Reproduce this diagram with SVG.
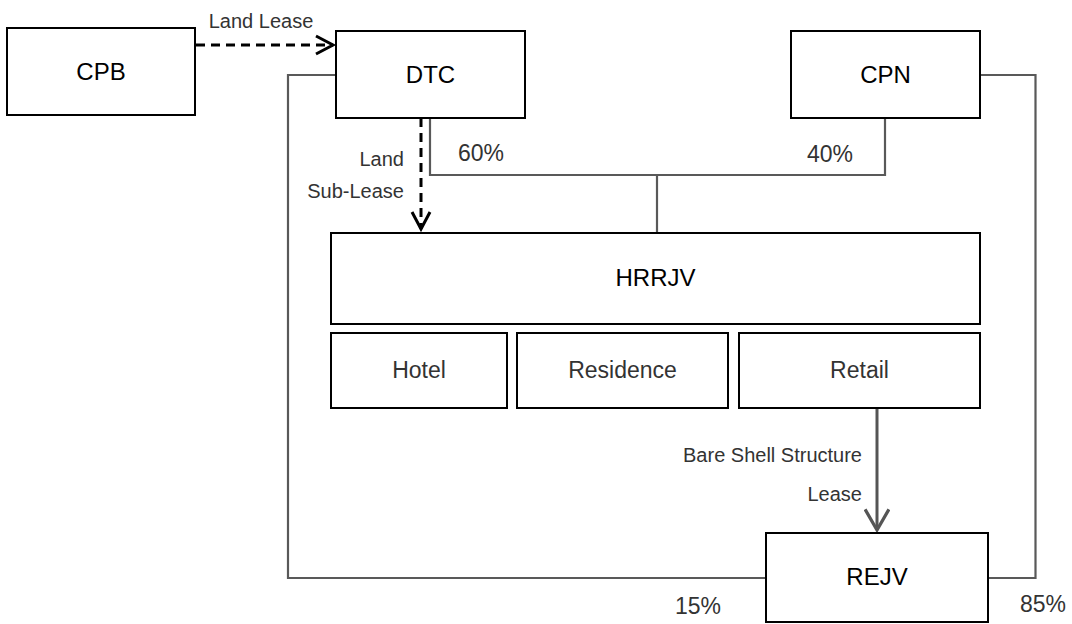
<svg xmlns="http://www.w3.org/2000/svg" width="1072" height="624" viewBox="0 0 1072 624">
<style>
.box{fill:#fff;stroke:#000;stroke-width:2}
.nl{font-family:"Liberation Sans",Arial,sans-serif;font-size:24px;fill:#000;text-anchor:middle}
.sl{font-family:"Liberation Sans",Arial,sans-serif;font-size:23px;fill:#333;text-anchor:middle}
.lbl{font-family:"Liberation Sans",Arial,sans-serif;font-size:20px;fill:#333}
.pct{font-family:"Liberation Sans",Arial,sans-serif;font-size:23px;fill:#333}
.conn{fill:none;stroke:#595959;stroke-width:2.2}
.dash{fill:none;stroke:#000;stroke-width:3;stroke-dasharray:9 6}
</style>
<defs>
<marker id="chevB" markerUnits="userSpaceOnUse" markerWidth="24" markerHeight="24" refX="18" refY="10" orient="auto" viewBox="0 0 24 20">
<path d="M1,1 L18,10 L1,19" fill="none" stroke="#000" stroke-width="3"/>
</marker>
<marker id="chevG" markerUnits="userSpaceOnUse" markerWidth="26" markerHeight="26" refX="20" refY="12" orient="auto" viewBox="0 0 24 24">
<path d="M1,1 L20,12 L1,23" fill="none" stroke="#555" stroke-width="3"/>
</marker>
</defs>
<g id="connectors">
<path class="conn" d="M336,75 H288 V578 H766"/>
<path class="conn" d="M980,75 H1035.5 V578 H988"/>
<path class="conn" d="M430,118 V175 H885 V118"/>
<path class="conn" d="M657,175 V233"/>
<path class="dash" d="M196,45 H333" marker-end="url(#chevB)"/>
<path class="dash" d="M421,118 V229" marker-end="url(#chevB)"/>
<path d="M877,408 V530" fill="none" stroke="#555" stroke-width="3" marker-end="url(#chevG)"/>
<text class="lbl" x="261" y="28" text-anchor="middle">Land Lease</text>
<text class="lbl" x="404" y="166" text-anchor="end">Land</text>
<text class="lbl" x="404" y="198" text-anchor="end">Sub-Lease</text>
<text class="lbl" x="862" y="462" text-anchor="end">Bare Shell Structure</text>
<text class="lbl" x="862" y="501" text-anchor="end">Lease</text>
<text class="pct" x="458" y="161">60%</text>
<text class="pct" x="807" y="162">40%</text>
<text class="pct" x="675" y="614">15%</text>
<text class="pct" x="1020" y="612">85%</text>
</g>
<g id="CPB"><rect class="box" x="7" y="28" width="188" height="87"/><text class="nl" x="101" y="80">CPB</text></g>
<g id="DTC"><rect class="box" x="336" y="31" width="189" height="87"/><text class="nl" x="430.5" y="83">DTC</text></g>
<g id="CPN"><rect class="box" x="791" y="31" width="189" height="87"/><text class="nl" x="885.5" y="83">CPN</text></g>
<g id="HRRJV"><rect class="box" x="331" y="233" width="649" height="91"/><text class="nl" x="655.5" y="286">HRRJV</text></g>
<g id="Hotel"><rect class="box" x="331" y="333" width="176" height="75"/><text class="sl" x="419" y="378">Hotel</text></g>
<g id="Residence"><rect class="box" x="517" y="333" width="211" height="75"/><text class="sl" x="622.5" y="378">Residence</text></g>
<g id="Retail"><rect class="box" x="739" y="333" width="241" height="75"/><text class="sl" x="859.5" y="378">Retail</text></g>
<g id="REJV"><rect class="box" x="766" y="533" width="222" height="89"/><text class="nl" x="877" y="585">REJV</text></g>
</svg>
